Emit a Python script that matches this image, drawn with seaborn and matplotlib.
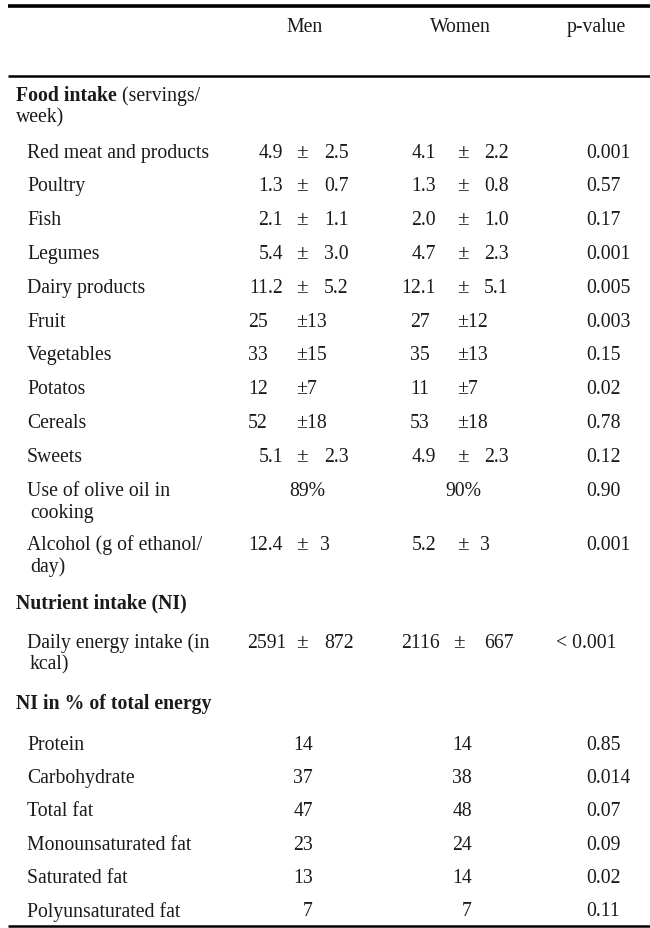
import matplotlib
matplotlib.use("Agg")
import matplotlib.pyplot as plt
import seaborn as sns

sns.set_theme(style="white")
plt.rcParams['font.family'] = ['Liberation Serif', 'DejaVu Serif']

# ---------------- data ----------------
columns = ["Men", "Women", "p-value"]

food_header = ("Food intake", " (servings/\nweek)")
food_items = ["Red meat and products", "Poultry", "Fish", "Legumes", "Dairy products",
              "Fruit", "Vegetables", "Potatos", "Cereals", "Sweets",
              "Use of olive oil in\ncooking", "Alcohol (g of ethanol/\nday)"]
food_men_mean = ["4.9", "1.3", "2.1", "5.4", "11.2", "25", "33", "12", "52", "5.1", "89%", "12.4"]
food_men_sd = ["2.5", "0.7", "1.1", "3.0", "5.2", "13", "15", "7", "18", "2.3", "", "3"]
food_women_mean = ["4.1", "1.3", "2.0", "4.7", "12.1", "27", "35", "11", "53", "4.9", "90%", "5.2"]
food_women_sd = ["2.2", "0.8", "1.0", "2.3", "5.1", "12", "13", "7", "18", "2.3", "", "3"]
food_p = ["0.001", "0.57", "0.17", "0.001", "0.005", "0.003", "0.15", "0.02", "0.78",
          "0.12", "0.90", "0.001"]

nutrient_header = "Nutrient intake (NI)"
nutrient_items = ["Daily energy intake (in\nkcal)"]
nutrient_men_mean = ["2591"]
nutrient_men_sd = ["872"]
nutrient_women_mean = ["2116"]
nutrient_women_sd = ["667"]
nutrient_p = ["< 0.001"]

pct_header = "NI in % of total energy"
pct_items = ["Protein", "Carbohydrate", "Total fat", "Monounsaturated fat",
             "Saturated fat", "Polyunsaturated fat"]
pct_men = ["14", "37", "47", "23", "13", "7"]
pct_women = ["14", "38", "48", "24", "14", "7"]
pct_p = ["0.85", "0.014", "0.07", "0.09", "0.02", "0.11"]

# ---------------- layout ----------------
W, H = 650, 929
fig = plt.figure(figsize=(W / 100, H / 100), dpi=100)
ax = fig.add_axes([0, 0, 1, 1])
ax.set_xlim(0, W)
ax.set_ylim(H, 0)
ax.axis("off")

FS = 14.2
TXT = "#1a1a1a"
LINE_H = 22
X_SEC, X_ITEM = 16, 27
X_MEN_R, X_MEN_PM, X_MEN_SD, X_MEN_INT = 283, 302, 320, 248
X_WOM_R, X_WOM_PM, X_WOM_SD, X_WOM_INT = 436, 463, 480, 410
X_P_L, X_P_R = 586, 617


def txt(x, y, s, ha="left", size=FS, **kw):
    ax.text(x, y, s, ha=ha, va="center", fontsize=size, color=TXT,
            linespacing=1.2, **kw)


def mean_sd(y, mean, sd, xr, xpm, xsd, xint, xpct):
    if sd == "":
        txt(xpct, y, mean, ha="center")
    elif "." in mean or len(mean) > 3:
        txt(xr, y, mean, ha="right")
        txt(xpm, y, "±", ha="center", size=FS + 1)
        txt(xsd if len(sd) < 3 else xsd + 4, y, sd)
    else:
        txt(xint, y, mean)
        txt(xpm - 6, y, "±" + sd)


def pval(y, p):
    if p.startswith("<"):
        txt(X_P_R, y, p, ha="right")
    else:
        txt(X_P_L, y, p)


# rules
ax.plot([8, W], [7, 7], color="black", lw=2.6, solid_capstyle="butt")
ax.plot([8, W], [77, 77], color="black", lw=1.8, solid_capstyle="butt")
ax.plot([8, W], [927, 927], color="black", lw=1.8, solid_capstyle="butt")

# header
for label, x in zip(columns, [305, 460, 596]):
    txt(x, 27, label, ha="center")

# Food intake section
y = 96
t = ax.text(X_SEC, y, food_header[0], ha="left", va="center", fontsize=FS,
            color=TXT, fontweight="bold")
fig.canvas.draw()
bb = t.get_window_extent()
x_end = bb.x1
ax.text(x_end, y, food_header[1].split("\n")[0], ha="left", va="center", fontsize=FS,
        color=TXT, transform=matplotlib.transforms.blended_transform_factory(
            matplotlib.transforms.IdentityTransform(), ax.transData))
txt(X_SEC, y + LINE_H, food_header[1].split("\n")[1])
y += LINE_H + 35
for i, item in enumerate(food_items):
    txt(X_ITEM, y, item.split("\n")[0])
    if "\n" in item:
        txt(X_ITEM + 3, y + LINE_H, item.split("\n")[1])
    mean_sd(y, food_men_mean[i], food_men_sd[i], X_MEN_R, X_MEN_PM, X_MEN_SD, X_MEN_INT, 307)
    mean_sd(y, food_women_mean[i], food_women_sd[i], X_WOM_R, X_WOM_PM, X_WOM_SD, X_WOM_INT, 463)
    pval(y, food_p[i])
    if "\n" in item:
        y += LINE_H
        y += 36 if i == len(food_items) - 1 else 32
    else:
        y += 33.8

# Nutrient section
txt(X_SEC, y, nutrient_header, fontweight="bold")
y += 40
for i, item in enumerate(nutrient_items):
    txt(X_ITEM, y, item.split("\n")[0])
    txt(X_ITEM + 3, y + LINE_H, item.split("\n")[1])
    mean_sd(y, nutrient_men_mean[i], nutrient_men_sd[i], X_MEN_R + 4, X_MEN_PM, X_MEN_SD, X_MEN_INT, 307)
    mean_sd(y, nutrient_women_mean[i], nutrient_women_sd[i], X_WOM_R + 4, X_WOM_PM - 4, X_WOM_SD, X_WOM_INT, 463)
    pval(y, nutrient_p[i])
    y += LINE_H + 39

# Percent section
txt(X_SEC, y, pct_header, fontweight="bold")
y += 41
for i, item in enumerate(pct_items):
    txt(X_ITEM, y, item)
    txt(313, y, pct_men[i], ha="right")
    txt(472, y, pct_women[i], ha="right")
    pval(y, pct_p[i])
    y += 33.4

fig.savefig("out.png", dpi=100, facecolor="white")
